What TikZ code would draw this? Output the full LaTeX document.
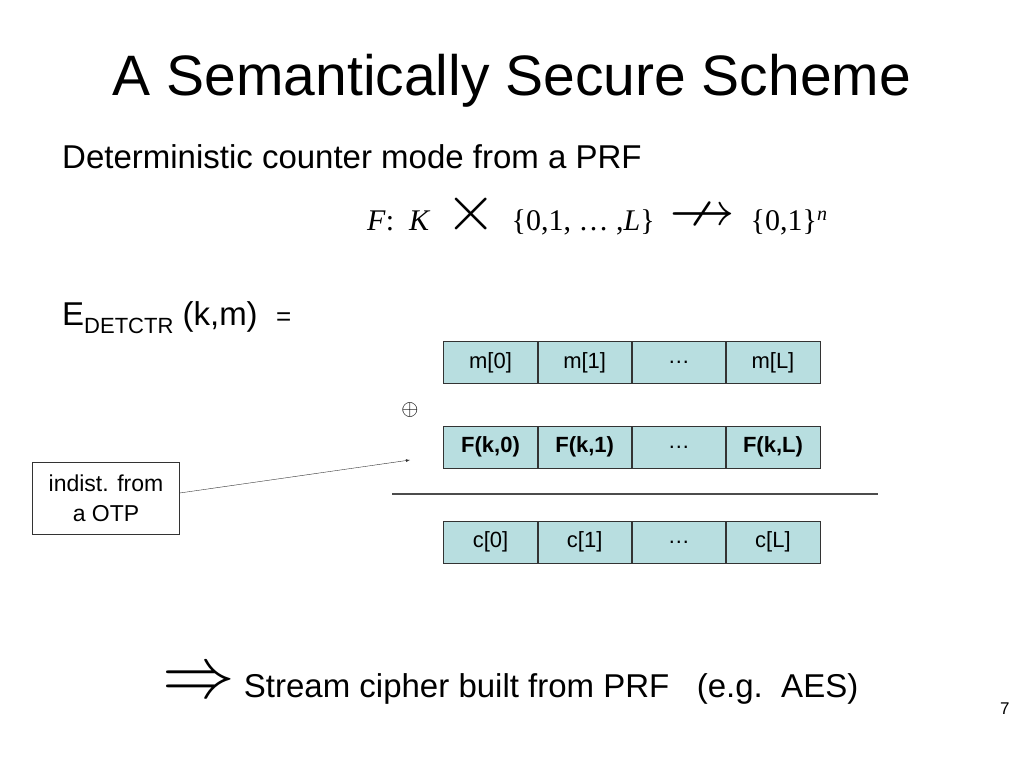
\documentclass[tikz,border=0pt]{standalone}
\usepackage{fix-cm}
\usepackage{amssymb}
\usepackage{fontspec}
\setmainfont{Liberation Sans}
\newfontfamily\mathserif{Liberation Serif}
\usetikzlibrary{positioning}
\definecolor{cellblue}{HTML}{B8DEE0}
\newcommand\bigsym[1]{\scalebox{2.2}{$#1$}}
\tikzset{
  cell/.style={draw=black!80, fill=cellblue, minimum width=93.75pt, minimum height=42pt, inner sep=0pt, font=\fontsize{22}{26}\selectfont},
  txt/.style={inner sep=0pt, anchor=base west},
}
\begin{document}
\begin{tikzpicture}[x=1pt,y=-1pt]
  \useasboundingbox (0,0) rectangle (1024,768);
  \node[txt, anchor=base] (title) at (512,95) {\fontsize{57}{62}\selectfont A Semantically Secure Scheme};
  \node[txt] (sub) at (62,168) {\fontsize{33}{38}\selectfont Deterministic counter mode from a PRF};
  \node[txt] (prf) at (367,230) {\mathserif\fontsize{30}{34}\selectfont \textit{F}:~~\textit{K}~~\bigsym{\times}~~\{0,1,~…~,\textit{L}\}~~\bigsym{\nrightarrow}~~\{0,1\}\raisebox{10pt}{\fontsize{20}{22}\selectfont\textit{n}}};
  \node[txt] (enc) at (62,325) {\fontsize{33}{38}\selectfont E\raisebox{-8pt}{\fontsize{22}{24}\selectfont DETCTR} (k,m)~~\fontsize{26}{28}\selectfont =};
  % message row
  \node[cell] (m0) at (490.5,362.5) {m[0]};
  \node[cell, right=0pt of m0] (m1) {m[1]};
  \node[cell, right=0pt of m1] (mdots) {…};
  \node[cell, right=0pt of mdots] (mL) {m[L]};
  % pad row
  \node[cell, font=\fontsize{22}{26}\selectfont\bfseries] (f0) at (490.5,447) {F(k,0)};
  \node[cell, right=0pt of f0, font=\fontsize{22}{26}\selectfont\bfseries] (f1) {F(k,1)};
  \node[cell, right=0pt of f1] (fdots) {…};
  \node[cell, right=0pt of fdots, font=\fontsize{22}{26}\selectfont\bfseries] (fL) {F(k,L)};
  % cipher row
  \node[cell] (c0) at (490.5,542) {c[0]};
  \node[cell, right=0pt of c0] (c1) {c[1]};
  \node[cell, right=0pt of c1] (cdots) {…};
  \node[cell, right=0pt of cdots] (cL) {c[L]};
  \node (xor) at (410,410) {\bigsym{\oplus}};
  \coordinate (ruleL) at (392,494);
  \coordinate (ruleR) at (878,494);
  \draw[black!70, line width=1.2pt] (ruleL) -- (ruleR);
  \node[draw=black!80, minimum width=147pt, minimum height=72pt, align=center, font=\fontsize{23}{30}\selectfont] (otp) at (106,498) {indist. from\\a OTP};
  \coordinate (otptip) at (410,460);
  \draw[-latex, black!80] (otp.east |- 0,493) -- (otptip);
  \node[txt] (stream) at (162,697) {\fontsize{33}{38}\selectfont \bigsym{\Rightarrow}~Stream cipher built from PRF~~~(e.g.~~AES)};
  \node[txt] (page) at (1000,714) {\fontsize{17}{20}\selectfont 7};
\end{tikzpicture}
\end{document}
